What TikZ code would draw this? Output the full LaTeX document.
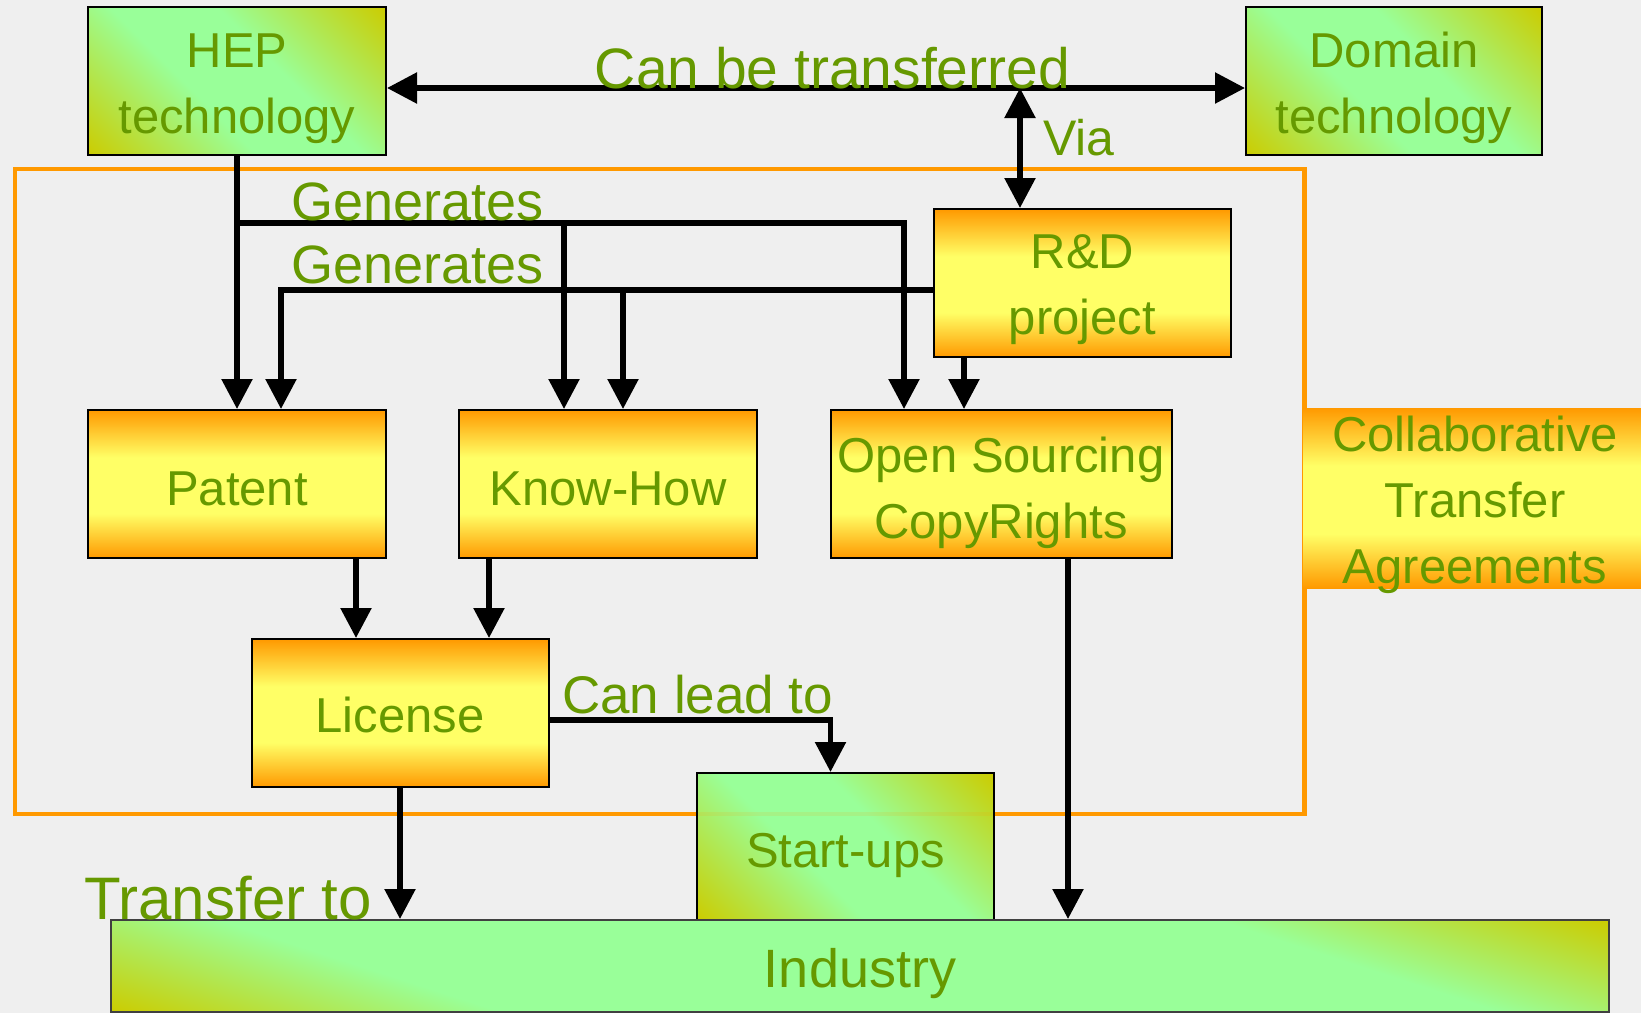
\documentclass[tikz,border=0pt]{standalone}
\usepackage{fontspec}
\setmainfont{Liberation Sans}
\usetikzlibrary{arrows.meta,calc}
\definecolor{bgC}{RGB}{239,239,239}
\definecolor{orC}{RGB}{255,153,0}
\definecolor{yeC}{RGB}{255,255,102}
\definecolor{olC}{RGB}{204,204,0}
\definecolor{grC}{RGB}{153,255,153}
\definecolor{txC}{RGB}{102,153,0}
\pgfdeclareverticalshading{orband}{100bp}{color(0bp)=(orC); color(25bp)=(orC); color(40bp)=(yeC); color(59bp)=(yeC); color(75bp)=(orC); color(100bp)=(orC)}
\pgfdeclareverticalshading{grbandA}{100bp}{color(0bp)=(olC); color(25bp)=(olC); color(44bp)=(grC); color(56bp)=(grC); color(75bp)=(olC); color(100bp)=(olC)}
\pgfdeclareverticalshading{grbandB}{100bp}{color(0bp)=(olC); color(25bp)=(olC); color(36bp)=(grC); color(64bp)=(grC); color(75bp)=(olC); color(100bp)=(olC)}
\newcommand{\mlines}[1]{\begin{tabular}[t]{@{}c@{}}#1\end{tabular}}
% diagonal green shading clipped to a box: centre x, centre y, width, height, angle, shading
\newcommand{\gshade}[6]{%
  \pgfmathsetmacro{\gL}{#3*sin(#5)+#4*cos(#5)}%
  \pgfmathsetmacro{\gM}{#3*cos(#5)+#4*sin(#5)}%
  \begin{scope}
    \clip (#1-#3/2,#2-#4/2) rectangle (#1+#3/2,#2+#4/2);
    \begin{scope}[transform canvas={shift={(#1,#2)},rotate=-#5}]
      \path[shade,shading=#6] (-\gM/2,-\gL/2) rectangle (\gM/2,\gL/2);
    \end{scope}
  \end{scope}}
\begin{document}
\begin{tikzpicture}[x=1pt,y=-1pt,
  obox/.style={draw=black,line width=2pt,shade,shading=orband,inner sep=0pt},
  gbox/.style={draw=black,line width=2pt,inner sep=0pt},
  btxt/.style={anchor=base,text=txC,inner sep=0pt,font=\fontsize{49}{66}\selectfont},
  ltxt/.style={anchor=base west,text=txC,inner sep=0pt},
  conn/.style={line width=5.5pt,-{Triangle[length=30pt,width=30pt]}},
  dconn/.style={line width=5.5pt,{Triangle[length=30pt,width=30pt]}-{Triangle[length=30pt,width=30pt]}}
]
\fill[bgC] (0,0) rectangle (1641,1013);
\useasboundingbox (0,0) rectangle (1641,1013);
% frame
\draw[orC,line width=4.5pt] (15,169) rectangle (1304.5,814);
% boxes
\node[obox,draw=orC,line width=0pt,minimum width=339pt,minimum height=180pt] (col) at (1471.5,498) {};
\gshade{237}{81}{298}{148}{45}{grbandA}
\node[gbox,minimum width=298pt,minimum height=148pt] (hep) at (237,81) {};
\gshade{1394}{81}{296}{148}{45}{grbandA}
\node[gbox,minimum width=296pt,minimum height=148pt] (dom) at (1394,81) {};
\node[obox,minimum width=297pt,minimum height=148pt] (rnd) at (1082.5,283) {};
\node[obox,minimum width=298pt,minimum height=148pt] (pat) at (237,484) {};
\node[obox,minimum width=298pt,minimum height=148pt] (know) at (608,484) {};
\node[obox,minimum width=341pt,minimum height=148pt] (os) at (1001,484) {};
\node[obox,minimum width=297pt,minimum height=148pt] (lic) at (400,713) {};
\gshade{845.5}{846.5}{297}{147}{45}{grbandA}
\draw[orC,opacity=0.12,line width=4.5pt] (697,814) -- (994,814);
\node[gbox,minimum width=297pt,minimum height=147pt] (st) at (845.5,846.5) {};
\gshade{860}{966}{1498}{92}{18}{grbandB}
\node[gbox,draw=black!75,minimum width=1498pt,minimum height=92pt] (ind) at (860,966) {};
% box texts
\node[btxt] (t-hep) at (237,67) {\mlines{HEP\\technology}};
\node[btxt] (t-dom) at (1394,67) {\mlines{Domain\\technology}};
\node[btxt] (t-rnd) at (1082.5,268) {\mlines{R\&D\\project}};
\node[btxt] (t-pat) at (237,505) {Patent};
\node[btxt] (t-know) at (608,505) {Know-How};
\node[btxt] (t-os) at (1001,472) {\mlines{Open Sourcing\\CopyRights}};
\node[btxt] (t-lic) at (400,732) {License};
\node[btxt] (t-st) at (845.5,867) {Start-ups};
\node[btxt,font=\fontsize{54}{66}\selectfont] (t-ind) at (860,987) {Industry};
\node[btxt] (t-col) at (1475,451) {\mlines{Collaborative\\Transfer\\Agreements}};
% connectors
\coordinate (vy) at (1020,88);
\draw[dconn] (hep.east |- vy) -- (dom.west |- vy);
\draw[dconn] (vy) -- (vy |- rnd.north);
\coordinate (ga) at (237,223);
\coordinate (gb) at (564,223);
\coordinate (gc) at (904,223);
\draw[conn] (hep.south) -- (pat.north);
\draw[conn] (ga) -- (gc) -- (gc |- os.north);
\draw[conn] (gb) -- (gb |- know.north);
\coordinate (ra) at (281,290);
\coordinate (rb) at (623,290);
\draw[conn] (rnd.west |- ra) -- (ra) -- (ra |- pat.north);
\draw[conn] (rb) -- (rb |- know.north);
\coordinate (rc) at (964,0);
\draw[conn] (rc |- rnd.south) -- (rc |- os.north);
\coordinate (pa) at (356,0);
\draw[conn] (pa |- pat.south) -- (pa |- lic.north);
\coordinate (ka) at (489,0);
\draw[conn] (ka |- know.south) -- (ka |- lic.north);
\coordinate (ls) at (830.5,720);
\draw[conn] (lic.east |- ls) -- (ls) -- (ls |- st.north);
\draw[conn] (lic.south) -- (lic.south |- ind.north);
\coordinate (oa) at (1068,0);
\draw[conn] (oa |- os.south) -- (oa |- ind.north);
% labels
\node[ltxt,anchor=base,font=\fontsize{57}{60}\selectfont] (l-cbt) at (832.5,88) {Can be transferred};
\node[ltxt,font=\fontsize{50}{60}\selectfont] (l-via) at (1043,155) {Via};
\node[ltxt,font=\fontsize{54}{60}\selectfont] (l-gen1) at (291,220) {Generates};
\node[ltxt,font=\fontsize{54}{60}\selectfont] (l-gen2) at (291,283) {Generates};
\node[ltxt,font=\fontsize{53}{60}\selectfont] (l-cl) at (562,713) {Can lead to};
\node[ltxt,font=\fontsize{60}{60}\selectfont] (l-tt) at (84,919) {Transfer to};
\end{tikzpicture}
\end{document}
